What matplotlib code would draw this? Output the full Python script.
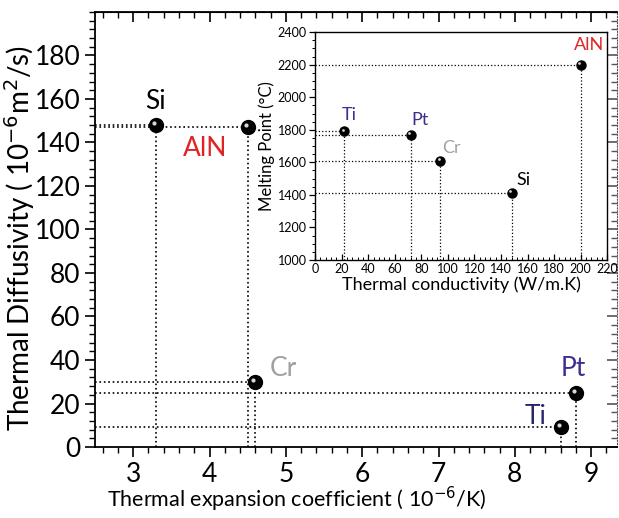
import matplotlib.pyplot as plt
import matplotlib.transforms as mtransforms
from matplotlib.ticker import MultipleLocator

plt.rcParams["font.family"] = ["Lato", "DejaVu Sans"]

# main chart: thermal expansion vs thermal diffusivity
materials = ["Si", "AlN", "Cr", "Pt", "Ti"]
expansion = [3.3, 4.5, 4.6, 8.8, 8.6]
diffusivity = [148, 147, 30, 25, 9]
main_label_pos = [(3.29, 159), (3.94, 137), (4.97, 36), (8.76, 36), (8.27, 14)]
main_label_col = ["black", "#e02424", "#a0a0a0", "#3b2f8f", "#26266a"]

# inset: thermal conductivity vs melting point
conductivity = [22, 72, 94, 148, 200]
melting = [1790, 1770, 1610, 1414, 2200]
inset_materials = ["Ti", "Pt", "Cr", "Si", "AlN"]
inset_label_pos = [(26, 1890), (79, 1860), (103, 1688), (157, 1491), (206, 2320)]
inset_label_col = ["#3b2f8f", "#3b2f8f", "#a0a0a0", "black", "#e02424"]


def spheres(ax, xs, ys, size):
    ax.plot(xs, ys, "o", color="black", markersize=size, zorder=5)
    shift = mtransforms.offset_copy(ax.transData, fig=ax.figure, x=-size * 0.15, y=size * 0.15, units="points")
    ax.plot(xs, ys, "o", color="#d8d8d8", markersize=size * 0.3, markeredgewidth=0, transform=shift, zorder=6)


fig = plt.figure(figsize=(6.19, 5.18), dpi=100)
ax = fig.add_axes([0.1535, 0.137, 0.8435, 0.84])
ax.set_xlim(2.5, 9.34)
ax.set_ylim(0, 200)

for x, y in zip(expansion, diffusivity):
    ax.plot([2.5, x], [y, y], ":", color="black", lw=1.2)
    ax.plot([x, x], [0, y], ":", color="black", lw=1.2)
spheres(ax, expansion, diffusivity, 10)
for name, (tx, ty), c in zip(materials, main_label_pos, main_label_col):
    ax.text(tx, ty, name, color=c, fontsize=19, ha="center", va="center")

ax.set_xticks(range(3, 10))
ax.set_yticks(range(0, 181, 20))
ax.xaxis.set_minor_locator(MultipleLocator(0.2))
ax.yaxis.set_minor_locator(MultipleLocator(4))
ax.tick_params(axis="both", which="major", labelsize=19, length=7, width=1.2)
ax.tick_params(axis="both", which="minor", length=4, width=1)
ax.tick_params(axis="both", which="both", direction="out", top=False, right=False)
ax.spines["right"].set_linestyle(":")
ax.spines["right"].set_color("#555555")
for s in ["top", "bottom", "left"]:
    ax.spines[s].set_linewidth(1.3)
ax.set_xlabel("Thermal expansion coefficient ( 10$^{-6}$/K)", fontsize=15.5)
ax.xaxis.set_label_coords(0.387, -0.086)
ax.set_ylabel("Thermal Diffusivity ( 10$^{-6}$m$^2$/s)", fontsize=20)
ax.yaxis.set_label_coords(-0.112, 0.48)

# top and right ticks point inward
ax2 = ax.secondary_xaxis("top")
ax2.set_xticks(range(3, 10))
ax2.xaxis.set_minor_locator(MultipleLocator(0.2))
ax2.tick_params(which="major", direction="in", length=7, width=1.2)
ax2.tick_params(which="minor", direction="in", length=4, width=1)
ax2.set_xticklabels([])
ay2 = ax.secondary_yaxis("right")
ay2.set_yticks(range(0, 181, 20))
ay2.yaxis.set_minor_locator(MultipleLocator(4))
ay2.tick_params(which="major", direction="in", length=7, width=1.2, color="#555555")
ay2.tick_params(which="minor", direction="in", length=4, width=1, color="#555555")
ay2.set_yticklabels([])
ay2.spines["right"].set_visible(False)

# inset
ins = fig.add_axes([0.509, 0.498, 0.472, 0.44])
ins.set_xlim(0, 220)
ins.set_ylim(1000, 2400)
for x, y in zip(conductivity, melting):
    ins.plot([0, x], [y, y], ":", color="black", lw=0.9)
    ins.plot([x, x], [1000, y], ":", color="black", lw=0.9)
spheres(ins, conductivity, melting, 6.5)
for name, (tx, ty), c in zip(inset_materials, inset_label_pos, inset_label_col):
    ins.text(tx, ty, name, color=c, fontsize=13, ha="center", va="center")
ins.set_xticks(range(0, 221, 20))
ins.set_yticks(range(1000, 2401, 200))
ins.xaxis.set_minor_locator(MultipleLocator(4))
ins.yaxis.set_minor_locator(MultipleLocator(50))
ins.tick_params(axis="both", which="major", labelsize=9, length=4, width=0.9, pad=2)
ins.tick_params(axis="both", which="minor", length=2, width=0.7)
ins.tick_params(axis="x", which="both", direction="in")
ins.tick_params(axis="y", which="both", direction="out")
ins.set_xlabel("Thermal conductivity (W/m.K)", fontsize=13, labelpad=1)
ins.set_ylabel("Melting Point (°C)", fontsize=12, labelpad=2)
for s in ins.spines.values():
    s.set_linewidth(1.0)

fig.savefig("out.png", dpi=100)
